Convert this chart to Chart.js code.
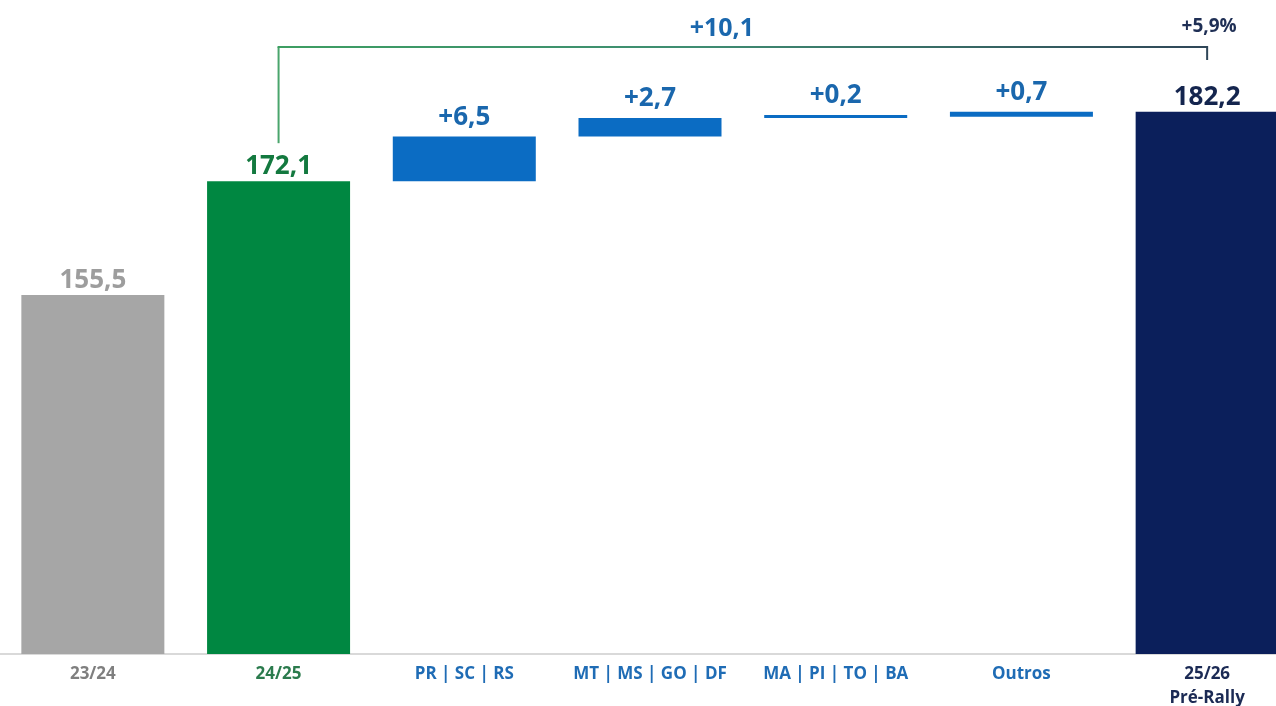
<!DOCTYPE html>
<html lang="pt-BR">
<head>
<meta charset="utf-8">
<title>Cascata 23/24 - 25/26</title>
<script src="https://cdn.jsdelivr.net/npm/chart.js@4.4.1/dist/chart.umd.min.js"></script>
<style>
    html, body { margin: 0; padding: 0; background: #ffffff; overflow: hidden; }
    #caixa { width: 1300px; height: 719px; position: relative; }
</style>
</head>
<body>
<div id="caixa"><canvas id="graficoCascata"></canvas></div>
<script>
const categorias = ['23/24', '24/25', 'PR | SC | RS', 'MT | MS | GO | DF', 'MA | PI | TO | BA', 'Outros', ['25/26', 'Pré-Rally']];
const totais = [155.5, 172.1, null, null, null, null, 182.2];
const variacoes = [null, null, 6.5, 2.7, 0.2, 0.7, null];

const coresBarras = ['#a6a6a6', '#008741', '#0b6cc3', '#0b6cc3', '#0b6cc3', '#0b6cc3', '#0b1f5b'];
const coresValores = ['#9d9d9d', '#13793f', '#1a67ad', '#1a67ad', '#1a67ad', '#1a67ad', '#14254e'];
const coresEixo = ['#7f7f7f', '#2b7b4d', '#1f6cb5', '#1f6cb5', '#1f6cb5', '#1f6cb5', '#1b2a54'];

const EIXO_MIN = 103.2;
const EIXO_MAX = 198.5;

function formata(v) {
    return v.toFixed(1).replace('.', ',');
}

// monta as faixas flutuantes da cascata a partir dos totais e variacoes
let acumulado = 0;
const faixas = categorias.map((_, i) => {
    if (totais[i] !== null) {
        acumulado = totais[i];
        return [EIXO_MIN, totais[i]];
    }
    const inicio = acumulado;
    acumulado += variacoes[i];
    return [inicio, acumulado];
});

const rotulosPlugin = {
    id: 'rotulos',
    afterDatasetsDraw(chart) {
        const ctx = chart.ctx;
        const meta = chart.getDatasetMeta(0);
        ctx.save();
        ctx.textAlign = 'center';
        ctx.textBaseline = 'alphabetic';
        meta.data.forEach((barra, i) => {
            const ehTotal = totais[i] !== null;
            const texto = ehTotal ? formata(totais[i]) : '+' + formata(variacoes[i]);
            ctx.fillStyle = coresValores[i];
            ctx.font = 'bold 26px "Open Sans"';
            ctx.fillText(texto, barra.x, barra.y - (ehTotal ? 7 : 12));
        });

        // colchete de variacao total
        const inicial = meta.data[1];
        const final = meta.data[6];
        const nivel = chart.chartArea.top + 47;
        const grad = ctx.createLinearGradient(inicial.x, 0, final.x, 0);
        grad.addColorStop(0, '#3d9e62');
        grad.addColorStop(0.45, '#3f8d72');
        grad.addColorStop(1, '#2f4658');
        ctx.lineWidth = 2;
        ctx.beginPath();
        ctx.strokeStyle = '#4aa56c';
        ctx.moveTo(inicial.x, inicial.y - 38);
        ctx.lineTo(inicial.x, nivel);
        ctx.stroke();
        ctx.beginPath();
        ctx.strokeStyle = grad;
        ctx.moveTo(inicial.x - 1, nivel);
        ctx.lineTo(final.x, nivel);
        ctx.lineTo(final.x, nivel + 13);
        ctx.stroke();

        const diferenca = totais[6] - totais[1];
        const pct = diferenca / totais[1] * 100;
        ctx.fillStyle = '#1a67ad';
        ctx.font = 'bold 25px "Open Sans"';
        ctx.fillText('+' + formata(diferenca), (inicial.x + final.x) / 2 - 21, nivel - 11);
        ctx.fillStyle = '#1f2f55';
        ctx.font = 'bold 19px "Open Sans"';
        ctx.fillText('+' + formata(pct) + '%', final.x + 2, nivel - 15);
        ctx.restore();
    }
};

const ctx = document.getElementById('graficoCascata').getContext('2d');
window.grafico = new Chart(ctx, {
    type: 'bar',
    data: {
        labels: categorias,
        datasets: [{
            data: faixas,
            backgroundColor: coresBarras,
            borderWidth: 0,
            barPercentage: 0.77,
            categoryPercentage: 1,
            minBarLength: 3
        }]
    },
    options: {
        responsive: true,
        maintainAspectRatio: false,
        animation: false,
        layout: { padding: { top: 0, left: 0, right: 0, bottom: 1 } },
        plugins: {
            legend: { display: false },
            tooltip: { enabled: false }
        },
        scales: {
            y: {
                display: false,
                min: EIXO_MIN,
                max: EIXO_MAX
            },
            x: {
                grid: { display: false, drawTicks: false },
                border: { display: true, color: '#d9d9d9', width: 2 },
                ticks: {
                    color: (c) => coresEixo[c.index],
                    font: { family: '"Open Sans"', size: 17, weight: 'bold', lineHeight: 1.41 },
                    padding: 8,
                    maxRotation: 0,
                    autoSkip: false
                }
            }
        }
    },
    plugins: [rotulosPlugin]
});
</script>
</body>
</html>
